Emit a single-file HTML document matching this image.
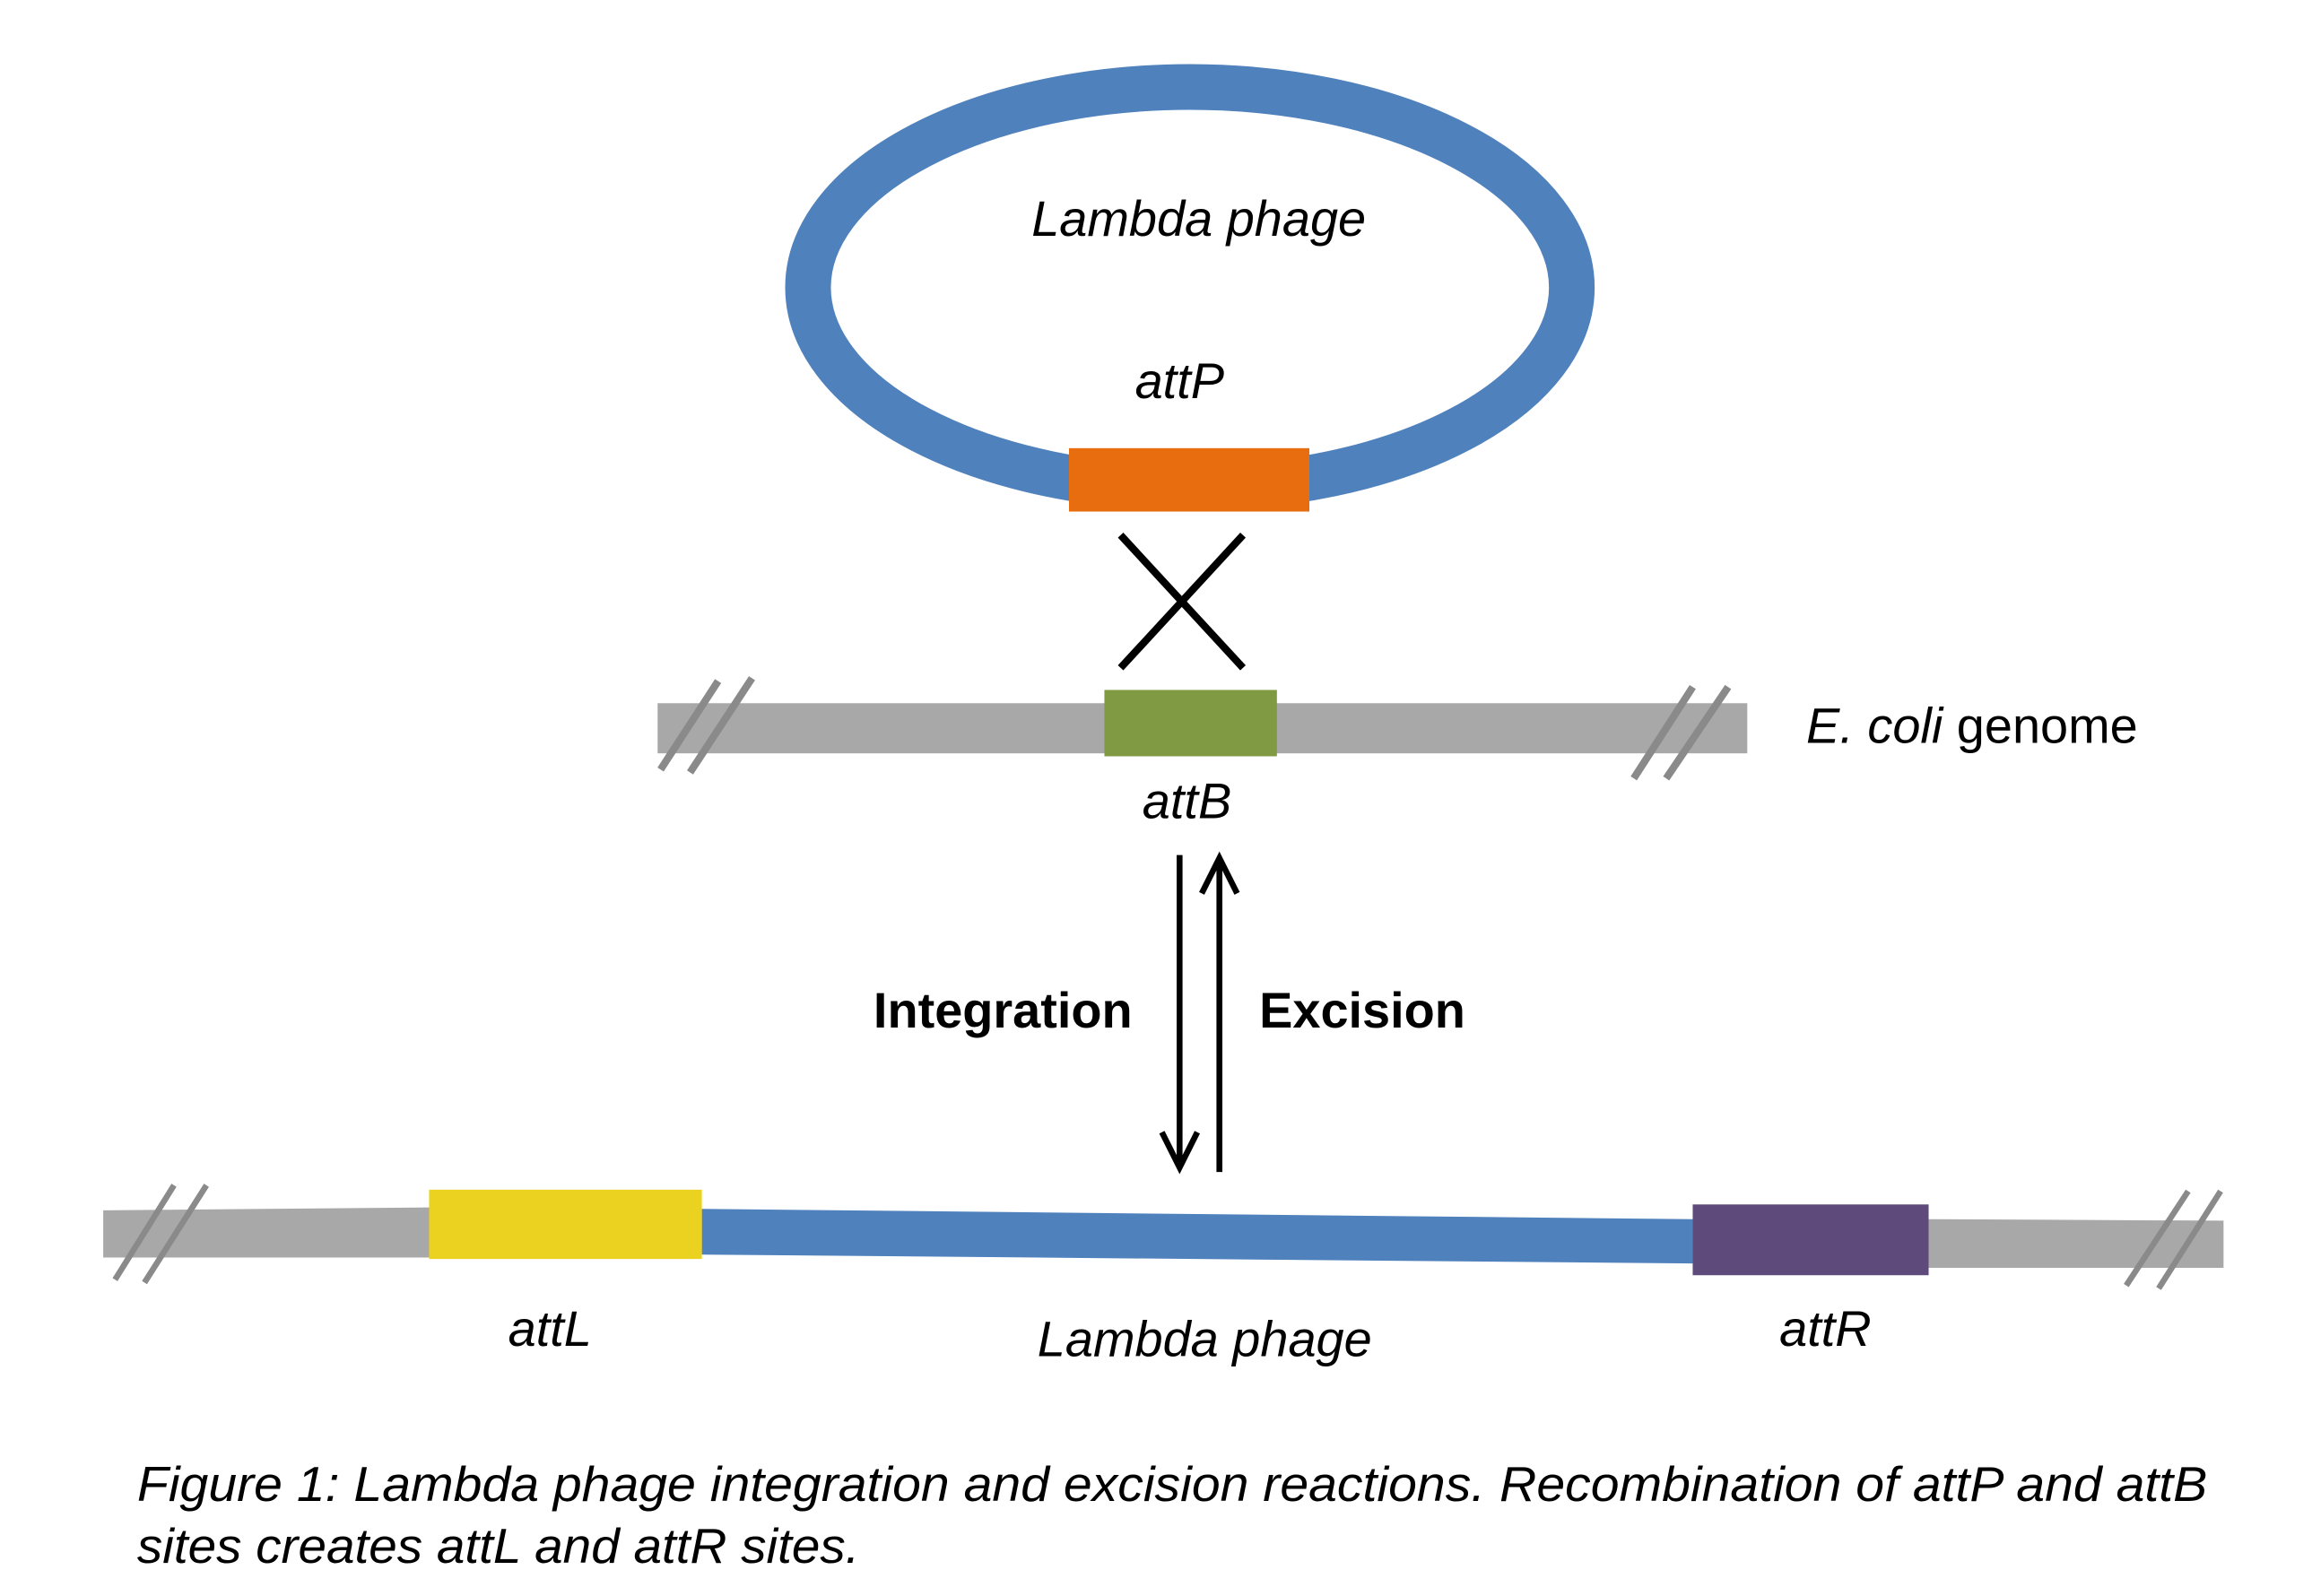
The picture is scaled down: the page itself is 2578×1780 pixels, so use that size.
<!DOCTYPE html>
<html><head><style>html,body{margin:0;padding:0;background:#fff;}svg{display:block}</style></head>
<body>
<svg width="2578" height="1780" viewBox="0 0 1568 1082.6" preserveAspectRatio="none" xmlns="http://www.w3.org/2000/svg" font-family="Liberation Sans, Arial, sans-serif">
<ellipse cx="807" cy="195" rx="259" ry="136" fill="none" stroke="#4f81bd" stroke-width="31"/>
<rect x="725" y="304" width="163" height="43" fill="#e76d0f"/>
<g stroke="#000" stroke-width="5"><line x1="760" y1="363" x2="843" y2="453"/><line x1="843" y1="363" x2="760" y2="453"/></g>
<rect x="446" y="477" width="739" height="34" fill="#a9a8a8"/>
<rect x="749" y="468" width="117" height="45" fill="#7f9a42"/>
<g stroke="#8a8a8a" stroke-width="5"><line x1="448" y1="522" x2="487" y2="462"/><line x1="468" y1="524" x2="510" y2="460"/><line x1="1108" y1="528" x2="1148" y2="466"/><line x1="1130" y1="528" x2="1172" y2="466"/></g>
<g font-style="italic" font-size="34" fill="#000" text-anchor="middle">
<text x="813" y="160">Lambda phage</text>
<text x="800" y="270">attP</text>
<text x="805" y="555">attB</text>
<text x="373" y="913">attL</text>
<text x="817" y="920">Lambda phage</text>
<text x="1238" y="913">attR</text>
</g>
<text x="1225" y="504" font-size="34"><tspan font-style="italic">E. coli</tspan> genome</text>
<g stroke="#000" stroke-width="4" fill="none"><line x1="800" y1="580" x2="800" y2="790"/><polyline points="788,768 800,792 812,768"/><line x1="827" y1="584" x2="827" y2="795"/><polyline points="815,606 827,582 839,606"/></g>
<text x="768" y="697" font-size="34" font-weight="bold" text-anchor="end">Integration</text>
<text x="854" y="697" font-size="34" font-weight="bold">Excision</text>
<polygon points="70,821 292,819 292,853 70,853" fill="#a9a8a8"/>
<polygon points="1308,827 1508,828 1508,860 1308,860" fill="#a9a8a8"/>
<polygon points="476,820 1148,827 1148,857 476,851" fill="#4f81bd"/>
<rect x="291" y="807" width="185" height="47" fill="#ecd220"/>
<rect x="1148" y="817" width="160" height="48" fill="#5e4a7b"/>
<g stroke="#8a8a8a" stroke-width="4"><line x1="78" y1="868" x2="118" y2="804"/><line x1="98" y1="870" x2="140" y2="804"/><line x1="1442" y1="872" x2="1484" y2="808"/><line x1="1464" y1="874" x2="1506" y2="808"/></g>
<g font-style="italic" font-size="33"><text x="93" y="1018" textLength="1404" lengthAdjust="spacingAndGlyphs">Figure 1: Lambda phage integration and excision reactions. Recombination of attP and attB</text>
<text x="93" y="1060" textLength="490" lengthAdjust="spacingAndGlyphs">sites creates attL and attR sites.</text></g>
</svg>
</body></html>
